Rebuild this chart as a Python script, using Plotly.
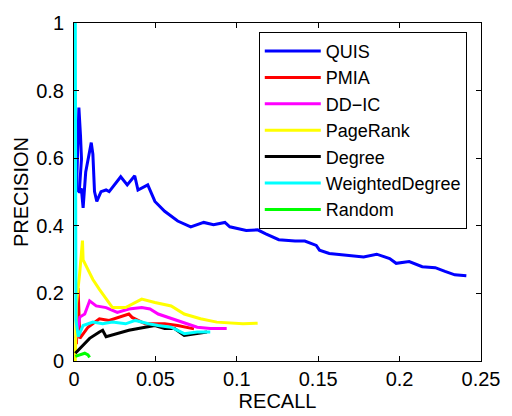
import plotly.graph_objects as go

series_names = ["QUIS", "PMIA", "DD\u2212IC", "PageRank", "Degree", "WeightedDegree", "Random"]
series_colors = ["#0000ff", "#ff0000", "#ff00ff", "#ffff00", "#000000", "#00ffff", "#00ff00"]

quis_x = [0.0015, 0.0025, 0.003, 0.004, 0.0046, 0.0032, 0.0045, 0.0056, 0.0072, 0.0106, 0.0116, 0.0126,
          0.014, 0.0166, 0.0197, 0.0216, 0.0246, 0.0287, 0.0327, 0.0373, 0.0393, 0.0453, 0.0497,
          0.0557, 0.0637, 0.0717, 0.0797, 0.0857, 0.0927, 0.0957, 0.1058, 0.1128, 0.1178, 0.1258,
          0.1358, 0.1418, 0.1488, 0.1508, 0.1568, 0.1659, 0.1779, 0.1859, 0.1939, 0.1979, 0.2059,
          0.2139, 0.2219, 0.2279, 0.2339, 0.241]
quis_y = [0.50, 0.70, 0.75, 0.666, 0.598, 0.497, 0.511, 0.453, 0.559, 0.646, 0.612, 0.501,
          0.472, 0.501, 0.506, 0.501, 0.521, 0.545, 0.521, 0.548, 0.506, 0.521, 0.472,
          0.443, 0.414, 0.397, 0.41, 0.403, 0.41, 0.397, 0.386, 0.388, 0.376, 0.359,
          0.355, 0.355, 0.342, 0.328, 0.318, 0.313, 0.308, 0.316, 0.303, 0.289, 0.294,
          0.279, 0.276, 0.265, 0.255, 0.252]

pmia_x = [0.0015, 0.0025, 0.0032, 0.0036, 0.0086, 0.0156, 0.0216, 0.0276, 0.0337, 0.0357, 0.0437,
          0.0497, 0.0557, 0.0637, 0.0697, 0.0737]
pmia_y = [0.05, 0.216, 0.12, 0.067, 0.10, 0.125, 0.12, 0.13, 0.139, 0.129, 0.11,
          0.11, 0.11, 0.105, 0.10, 0.095]

ddic_x = [0.0012, 0.0036, 0.0066, 0.0096, 0.0136, 0.0197, 0.0266, 0.0337, 0.0416, 0.0467, 0.0517,
          0.0577, 0.0657, 0.0757, 0.0837, 0.0938]
ddic_y = [0.067, 0.13, 0.139, 0.178, 0.163, 0.158, 0.144, 0.154, 0.158, 0.154, 0.139,
          0.129, 0.115, 0.10, 0.096, 0.096]

pr_x = [0.0008, 0.0015, 0.0035, 0.0052, 0.0056, 0.0076, 0.0116, 0.0156, 0.0197, 0.0236, 0.0317,
        0.0416, 0.0497, 0.0597, 0.0677, 0.0777, 0.0877, 0.1038, 0.1128]
pr_y = [0.0, 0.17, 0.26, 0.356, 0.299, 0.279, 0.241, 0.212, 0.183, 0.158, 0.158,
        0.183, 0.173, 0.163, 0.139, 0.125, 0.115, 0.11, 0.112]

deg_x = [0.0008, 0.0036, 0.0096, 0.0156, 0.0176, 0.0197, 0.0257, 0.0337, 0.0437, 0.0497, 0.0557,
         0.0617, 0.0677, 0.0757, 0.0817]
deg_y = [0.023, 0.038, 0.067, 0.086, 0.091, 0.072, 0.081, 0.091, 0.10, 0.105, 0.096,
         0.096, 0.076, 0.081, 0.086]

wd_x = [0.0008, 0.0008, 0.0012, 0.0026, 0.0056, 0.0116, 0.0176, 0.0236, 0.0317, 0.0377, 0.0457,
        0.0517, 0.0597, 0.0677, 0.0757, 0.0837]
wd_y = [1.0, 0.30, 0.12, 0.072, 0.105, 0.115, 0.11, 0.115, 0.11, 0.12, 0.11,
        0.105, 0.10, 0.081, 0.086, 0.086]

rnd_x = [0.0008, 0.0036, 0.0066, 0.0086, 0.0096]
rnd_y = [0.0136, 0.018, 0.023, 0.018, 0.011]

x_ticks = [0, 0.05, 0.1, 0.15, 0.2, 0.25]
x_labels = ["0", "0.05", "0.1", "0.15", "0.2", "0.25"]
y_ticks = [0, 0.2, 0.4, 0.6, 0.8, 1.0]
y_labels = ["0", "0.2", "0.4", "0.6", "0.8", "1"]

all_x = [quis_x, pmia_x, ddic_x, pr_x, deg_x, wd_x, rnd_x]
all_y = [quis_y, pmia_y, ddic_y, pr_y, deg_y, wd_y, rnd_y]

fig = go.Figure()
for name, col, xs, ys in zip(series_names, series_colors, all_x, all_y):
    fig.add_trace(go.Scatter(x=xs, y=ys, mode="lines", name=name,
                             line=dict(color=col, width=3)))

FONT = "Liberation Sans, Arial, sans-serif"
fig.update_layout(
    width=512, height=416,
    margin=dict(l=74, r=22, t=18, b=53),
    paper_bgcolor="white", plot_bgcolor="white",
    font=dict(family=FONT, size=20, color="black"),
    legend=dict(x=0.454, y=0.974, xanchor="left", yanchor="top",
                bgcolor="white", bordercolor="black", borderwidth=1,
                font=dict(family=FONT, size=18, color="black"),
                traceorder="normal", itemwidth=56),
    xaxis=dict(range=[0, 0.25], tickvals=x_ticks, ticktext=x_labels,
               showline=True, linecolor="black", linewidth=1, mirror="ticks",
               ticks="inside", ticklen=5, tickcolor="black", showgrid=False, zeroline=False,
               title=dict(text="RECALL", standoff=0, font=dict(size=20)),
               tickfont=dict(size=20)),
    yaxis=dict(range=[0, 1], tickvals=y_ticks, ticktext=y_labels,
               showline=True, linecolor="black", linewidth=1, mirror="ticks",
               ticks="inside", ticklen=5, tickcolor="black", showgrid=False, zeroline=False,
               ticklabelstandoff=5,
               title=dict(text="PRECISION", standoff=2, font=dict(size=20)),
               tickfont=dict(size=20)),
)
fig.write_html("out.html")
